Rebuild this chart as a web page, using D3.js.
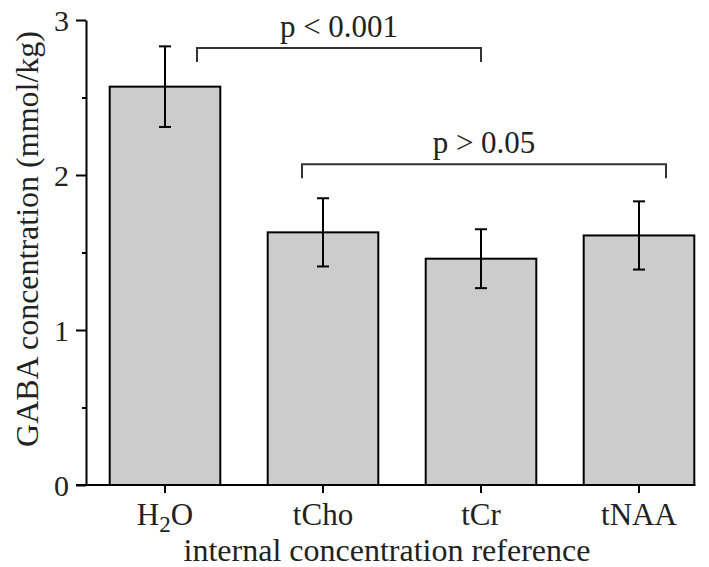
<!DOCTYPE html>
<html>
<head>
<meta charset="utf-8">
<script src="https://cdn.jsdelivr.net/npm/d3@7/dist/d3.min.js"></script>
<style>
  body { margin: 0; background: #fff; }
  svg { display: block; }
  text { font-family: "Liberation Serif", "Times New Roman", serif; fill: #222; }
</style>
</head>
<body>
<svg id="chart" width="709" height="567"></svg>
<script>
// data
var categories = ["H2O", "tCho", "tCr", "tNAA"];
var means = [2.57, 1.63, 1.46, 1.61];
var errors = [0.26, 0.22, 0.19, 0.22];
var yTicks = [0, 1, 2, 3];
var yMinorTicks = [0.5, 1.5, 2.5];
var bracketFrom = ["H2O", "tCho"];
var bracketTo = ["tCr", "tNAA"];
var bracketLevel = [2.82, 2.07];
var bracketLabel = ["p < 0.001", "p > 0.05"];

var svg = d3.select("#chart");
var plotLeft = 86, plotTop = 20, plotBottom = 485;

var y = d3.scaleLinear().domain([0, 3]).range([plotBottom, plotTop]);
var x = d3.scaleBand()
    .domain(categories)
    .range([plotLeft, plotLeft + 632])
    .paddingInner(0.3)
    .paddingOuter(0.15);

// bars
svg.selectAll(".bar")
    .data(categories)
  .enter().append("rect")
    .attr("class", "bar")
    .attr("x", function(d) { return x(d); })
    .attr("y", function(d, i) { return y(means[i]); })
    .attr("width", x.bandwidth())
    .attr("height", function(d, i) { return y(0) - y(means[i]); })
    .attr("fill", "#cccccc")
    .attr("stroke", "#000")
    .attr("stroke-width", 2);

// error bars
var eb = svg.selectAll(".err")
    .data(categories)
  .enter().append("g")
    .attr("class", "err")
    .attr("stroke", "#000")
    .attr("stroke-width", 2);
eb.append("line")
    .attr("x1", function(d) { return x(d) + x.bandwidth() / 2; })
    .attr("x2", function(d) { return x(d) + x.bandwidth() / 2; })
    .attr("y1", function(d, i) { return y(means[i] + errors[i]); })
    .attr("y2", function(d, i) { return y(means[i] - errors[i]); });
[1, -1].forEach(function(s) {
  eb.append("line")
    .attr("x1", function(d) { return x(d) + x.bandwidth() / 2 - 6; })
    .attr("x2", function(d) { return x(d) + x.bandwidth() / 2 + 6; })
    .attr("y1", function(d, i) { return y(means[i] + s * errors[i]); })
    .attr("y2", function(d, i) { return y(means[i] + s * errors[i]); });
});

// y axis
var yAxis = svg.append("g")
    .attr("transform", "translate(" + plotLeft + ",0)")
    .call(d3.axisLeft(y).tickValues(yTicks).tickFormat(d3.format("d"))
      .tickSize(10).tickPadding(7).tickSizeOuter(0));
yAxis.selectAll(".tick text").style("font-size", "30px").attr("dy", "0.34em");
yAxis.selectAll("line, path").attr("stroke", "#000").attr("stroke-width", 2);
svg.append("g")
    .attr("transform", "translate(" + plotLeft + ",0)")
    .call(d3.axisLeft(y).tickValues(yMinorTicks).tickSize(4).tickFormat("").tickSizeOuter(0))
    .call(function(g) { g.select(".domain").remove(); })
    .selectAll("line").attr("stroke", "#000").attr("stroke-width", 2);

// x axis
var xAxis = svg.append("g")
    .attr("transform", "translate(0," + plotBottom + ")")
    .call(d3.axisBottom(x).tickSize(8).tickPadding(4).tickSizeOuter(0));
xAxis.select(".domain").remove();
xAxis.append("line")
    .attr("x1", plotLeft - 10)
    .attr("x2", x(categories[categories.length - 1]) + x.bandwidth() + 1)
    .attr("stroke", "#000")
    .attr("stroke-width", 2);
xAxis.selectAll(".tick line").attr("stroke", "#000").attr("stroke-width", 2);
xAxis.selectAll(".tick text")
    .style("font-size", "31px")
    .attr("y", 40)
    .attr("dy", 0)
    .each(function(d) {
      var t = d3.select(this);
      if (d === "H2O") {
        t.text(null);
        t.append("tspan").text("H");
        t.append("tspan").text("2").style("font-size", "23px").attr("dy", 7);
        t.append("tspan").text("O").attr("dy", -7);
      }
    });

// axis titles
svg.append("text")
    .attr("x", 387)
    .attr("y", 561)
    .attr("text-anchor", "middle")
    .style("font-size", "32px")
    .text("internal concentration reference");
svg.append("text")
    .attr("transform", "translate(38,239) rotate(-90)")
    .attr("text-anchor", "middle")
    .style("font-size", "32px")
    .text("GABA concentration (mmol/kg)");

// significance brackets
var startOff = [32, -21], endOff = [0, 27];
bracketLabel.forEach(function(lab, i) {
  var x1 = x(bracketFrom[i]) + x.bandwidth() / 2 + startOff[i];
  var x2 = x(bracketTo[i]) + x.bandwidth() / 2 + endOff[i];
  var yl = y(bracketLevel[i]);
  svg.append("path")
      .attr("d", "M" + x1 + "," + (yl + 14) + "V" + yl + "H" + x2 + "V" + (yl + 14))
      .attr("fill", "none")
      .attr("stroke", "#333")
      .attr("stroke-width", 2);
  svg.append("text")
      .attr("x", (x1 + x2) / 2)
      .attr("y", yl - 11)
      .attr("text-anchor", "middle")
      .style("font-size", "31px")
      .text(lab);
});
</script>
</body>
</html>
